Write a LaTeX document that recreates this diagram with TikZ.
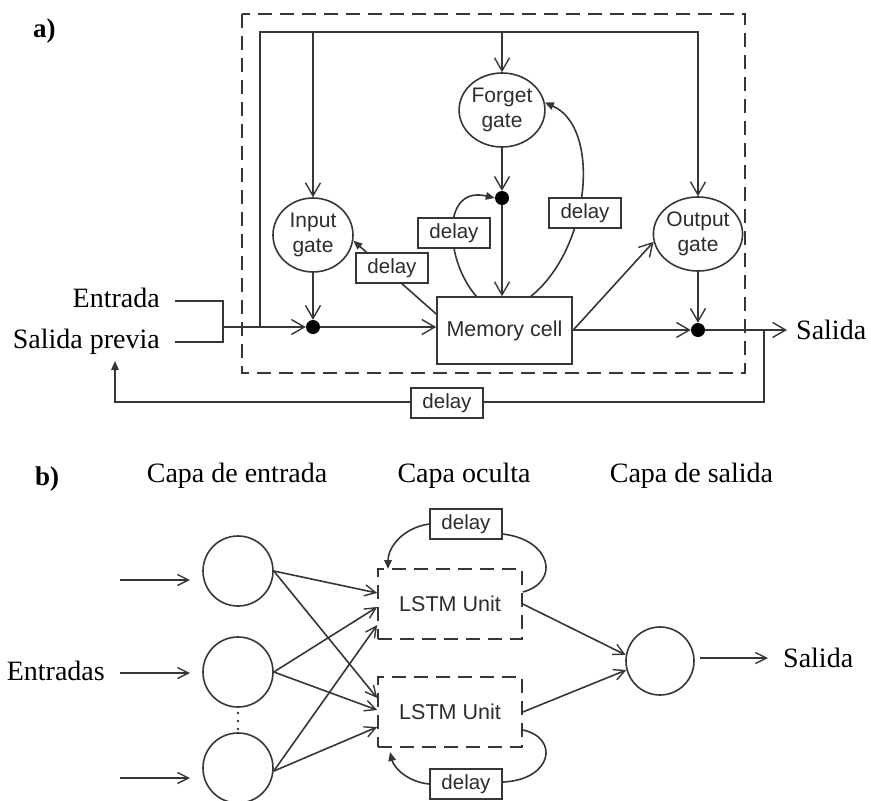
\documentclass[tikz,border=0pt]{standalone}
\usepackage{fontspec}
\setmainfont{Liberation Serif}
\setsansfont{Liberation Sans}
\usetikzlibrary{arrows.meta,shapes.geometric}
\definecolor{ink}{HTML}{363636}
\definecolor{sanstxt}{HTML}{2C2C2C}
\begin{document}
\begin{tikzpicture}[x=1pt,y=-1pt,
  line/.style={draw=ink,line width=1.6pt},
  oa/.style={-{Straight Barb[length=13pt,width=15pt,line width=1.4pt]}},
  sa/.style={-{Straight Barb[length=11pt,width=11pt,line width=1.4pt]}},
  fa/.style={-{Triangle[length=9pt,width=7.5pt]}},
  dashbox/.style={draw=ink,line width=1.8pt,dash pattern=on 14pt off 8pt},
  gate/.style={ellipse,draw=ink,line width=1.6pt,minimum width=80pt,minimum height=74pt,
    inner sep=0pt,align=center,text=sanstxt,font=\sffamily\fontsize{21}{25}\selectfont},
  cellbox/.style={draw=ink,line width=1.6pt,minimum width=135pt,minimum height=67pt,
    inner sep=0pt,text=sanstxt,font=\sffamily\fontsize{21.5}{25}\selectfont},
  delaybox/.style={draw=ink,line width=1.6pt,fill=white,minimum width=72pt,minimum height=30pt,
    inner sep=0pt,text=sanstxt,font=\sffamily\fontsize{20.5}{24}\selectfont},
  lstm/.style={draw=ink,line width=1.6pt,dash pattern=on 14pt off 8pt,minimum width=144pt,
    minimum height=70pt,inner sep=0pt,text=sanstxt,font=\sffamily\fontsize{21.5}{25}\selectfont},
  neuron/.style={circle,draw=ink,line width=1.6pt,minimum size=70pt,inner sep=0pt},
  dot/.style={circle,fill=black,minimum size=14pt,inner sep=0pt},
  tiny/.style={circle,fill=ink,minimum size=2.8pt,inner sep=0pt},
  serif/.style={inner sep=0pt,font=\fontsize{28}{32}\selectfont},
  tag/.style={inner sep=0pt,font=\bfseries\fontsize{27}{32}\selectfont}]

\useasboundingbox (0,0) rectangle (871,801);

% ---------------- a) LSTM unit ----------------
\node[tag,anchor=base west] (ta) at (33,37) {a)};
\draw[dashbox] (242,14) rectangle (745,373);

\node[gate] (ig) at (313,235) {Input\\gate};
\node[gate] (fg) at (502,110) {Forget\\gate};
\node[gate] (og) at (698,234) {Output\\gate};
\node[cellbox] (mc) at (504.5,330.5) {Memory cell};
\node[dot] (d1) at (313,327) {};
\node[dot] (d2) at (502,198) {};
\node[dot] (d3) at (698,330) {};

\node[serif,anchor=base east] (en) at (160,307) {Entrada};
\node[serif,anchor=base east] (sp) at (160,348) {Salida previa};
\node[serif,anchor=west,inner xsep=9pt] (sal) at (787,330) {Salida};

\coordinate (jn) at (223,327);
\coordinate (fb) at (764,330);

% inputs merged and fed to the cell
\draw[line] (175,301) -| (jn) |- (175,342);
\draw[line,oa] (jn) -- (d1);
\draw[line,oa] (d1) -- (mc.west |- d1);

% shared input bus to the three gates
\draw[line,oa] (260,327) |- (og.north |- 0,32) -- (og.north);
\draw[line,oa] (ig.north |- 0,32) -- (ig.north);
\draw[line,oa] (fg.north |- 0,32) -- (fg.north);

% gates and cell
\draw[line,oa] (ig) -- (d1);
\draw[line,oa] (fg) -- (d2);
\draw[line,oa] (d2) -- (d2 |- mc.north);
\draw[line,oa] (mc.east |- d3) -- (d3);
\draw[line,oa] (mc.east) -- (og.190);
\draw[line,oa] (og) -- (d3);
\draw[line,oa] (d3) -- (sal.west);

% peephole connections
\draw[line,fa] (mc.west |- 0,314) -- (ig.-8);
\draw[line,fa] (477,297) .. controls (445,262) and (440,185) .. (d2.west);
\draw[line,fa] (530,297) .. controls (590,250) and (602,128) .. (fg.10);

% recurrent output
\draw[line,fa] (fb) |- (115,402) -- (115,361);

\node[delaybox] (dl1) at (392,268) {delay};
\node[delaybox] (dl2) at (454,233) {delay};
\node[delaybox] (dl3) at (585,213) {delay};
\node[delaybox] (dl4) at (447,403) {delay};

% ---------------- b) network ----------------
\node[tag,anchor=base west] (tb) at (35,485) {b)};
\node[serif,anchor=base] (c1) at (237,482) {Capa de entrada};
\node[serif,anchor=base] (c2) at (464,482) {Capa oculta};
\node[serif,anchor=base] (c3) at (691.5,482) {Capa de salida};

\node[neuron] (i1) at (238,571) {};
\node[neuron] (i2) at (238,672) {};
\node[neuron] (i3) at (238,768) {};
\node[tiny] (v1) at (238,713) {};
\node[tiny] (v2) at (238,721) {};
\node[tiny] (v3) at (238,729) {};

\node[lstm] (l1) at (450,604) {LSTM Unit};
\node[lstm] (l2) at (450,712) {LSTM Unit};
\node[neuron,minimum size=68pt] (o1) at (660,661) {};

\node[serif,anchor=base east] (ent) at (105,680) {Entradas};
\node[serif,anchor=west,inner xsep=0pt] (sal2) at (783,658) {Salida};

\draw[line,sa] (120,580) -- (190,580);
\draw[line,sa] (ent.east |- i2) ++(15,1) -- (190,673);
\draw[line,sa] (120,778) -- (190,778);

\draw[line,sa] (i1.east) -- (l1.west |- 0,593);
\draw[line,sa] (i1.east) -- (l2.west |- 0,698);
\draw[line,sa] (i2.east) -- (l1.west |- 0,607);
\draw[line,sa] (i2.east) -- (l2.west |- 0,710);
\draw[line,sa] (i3.-5) -- (l1.west |- 0,625);
\draw[line,sa] (i3.-5) -- (l2.west |- 0,727);

\draw[line,sa] (l1.east) -- (o1.170);
\draw[line,sa] (l2.east) -- (o1.195);
\draw[line,sa] (700,658) -- (768,658);

% self-recurrent loops of the hidden units
\node[delaybox] (dt) at (466,524) {delay};
\node[delaybox] (db) at (466,784) {delay};
\draw[line] (l1.east |- 0,592) .. controls (560,582) and (552,540) .. (dt.east |- 0,534);
\draw[line,fa] (dt.west) .. controls (402,528) and (388,548) .. (388,569);
\draw[line] (l2.east |- 0,730) .. controls (560,738) and (552,780) .. (db.east |- 0,782);
\draw[line,fa] (db.west) .. controls (408,782) and (394,768) .. (390,752);
\end{tikzpicture}
\end{document}
